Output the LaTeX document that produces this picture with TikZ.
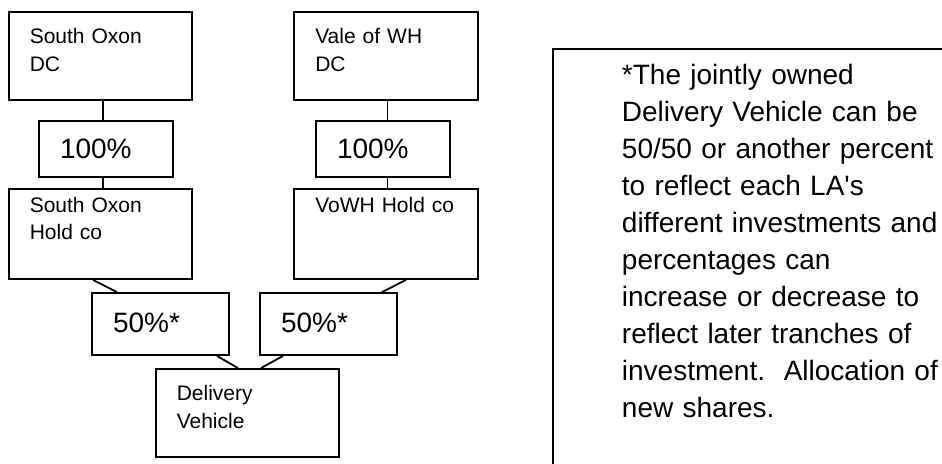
\documentclass[tikz,border=0pt]{standalone}
\usepackage{fontspec}
\setmainfont{Liberation Sans}
\tikzset{
  orgbox/.style={draw, line width=0.9pt, align=left, inner xsep=10.5pt, inner ysep=0pt,
    font=\fontsize{10.5}{13.75}\selectfont},
  pctbox/.style={orgbox, font=\fontsize{14}{18.35}\selectfont},
  dcbox/.style={orgbox, text width=70.75pt, text height=15.75pt, text depth=28.25pt},
  holdbox/.style={orgbox, text width=70.75pt, text height=11.5pt, text depth=33.5pt},
  fullbox/.style={pctbox, text width=46pt, text height=18.5pt, text depth=9.5pt},
  halfbox/.style={pctbox, text width=47.5pt, text height=19.5pt, text depth=11.5pt},
  notebox/.style={draw, line width=0.95pt, align=left, anchor=north west, text width=200pt,
    inner xsep=34.5pt, inner ysep=0pt, text height=18pt, text depth=230pt,
    font=\fontsize{14}{18.5}\selectfont},
  link/.style={line width=0.9pt}
}
\begin{document}
\begin{tikzpicture}[x=0.5pt,y=-0.5pt]
\useasboundingbox (0,0) rectangle (942,463);
\clip (0,0) rectangle (942,463);
% councils
\node[dcbox] (so) at (100.5,56) {South Oxon\\DC};
\node[dcbox] (vw) at (386,56) {Vale of WH\\DC};
\node[fullbox] (p1) at (106,149) {100\%};
\node[fullbox] (p2) at (383,149) {100\%};
% holding companies
\node[holdbox] (soh) at (100.5,234) {South Oxon\\Hold co};
\node[holdbox] (vwh) at (386,234) {VoWH Hold co};
\node[halfbox] (f1) at (160.5,324) {50\%*};
\node[halfbox] (f2) at (328.5,324) {50\%*};
\node[dcbox] (dv) at (247.5,413) {Delivery\\Vehicle};
% note
\node[notebox] (note) at (552,48) {*The jointly owned\\Delivery Vehicle can be\\50/50 or another percent\\to reflect each LA\textquotesingle s\\different investments and\\percentages can\\increase or decrease to\\reflect later tranches of\\investment.\ \ Allocation of\\new shares.};
% links
\draw[link] ([xshift=1.25pt]so.south) -- ([xshift=1.25pt]so.south |- p1.north);
\draw[link] ([xshift=-1.5pt]p1.south) -- ([xshift=-1.5pt]p1.south |- soh.north);
\draw[link] ([xshift=0.75pt]vw.south) -- ([xshift=0.75pt]vw.south |- p2.north);
\draw[link] ([xshift=2.25pt]p2.south) -- ([xshift=2.25pt]p2.south |- vwh.north);
\draw[link] ([xshift=-3.75pt]soh.south) -- ([xshift=-21.75pt]f1.north);
\draw[link] ([xshift=10pt]vwh.south) -- ([xshift=26.75pt]f2.north);
\draw[link] ([xshift=28.25pt]f1.south) -- ([xshift=-4.75pt]dv.north);
\draw[link] ([xshift=-22.75pt]f2.south) -- ([xshift=6.75pt]dv.north);
\end{tikzpicture}
\end{document}
